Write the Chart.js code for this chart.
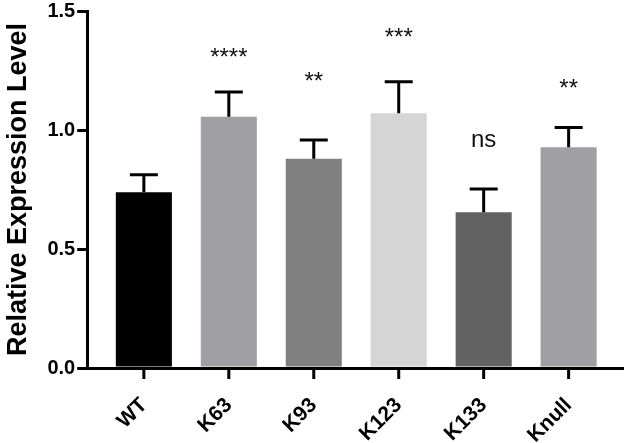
<!DOCTYPE html>
<html>
<head>
<meta charset="utf-8">
<script src="https://cdn.jsdelivr.net/npm/chart.js@4/dist/chart.umd.min.js"></script>
<style>
  html, body { margin: 0; padding: 0; background: #fff; }
  #wrap { width: 630px; height: 443px; position: relative; }
</style>
</head>
<body>
<div id="wrap"><canvas id="expr"></canvas></div>
<script>
const categories = ["WT", "K63", "K93", "K123", "K133", "Knull"];
const values = [0.738, 1.056, 0.879, 1.070, 0.654, 0.927];
const errors = [0.074, 0.104, 0.079, 0.133, 0.098, 0.084];
const sigLabels = ["", "****", "**", "***", "ns", "**"];
const sigHeights = [0, 1.30, 1.20, 1.385, 0.955, 1.17];
const yTicks = [0, 0.5, 1.0, 1.5];
const colors = ["#000000", "#a0a0a4", "#808080", "#d5d5d5", "#626262", "#a0a0a4"];

const font = "'Liberation Sans', Arial, sans-serif";

// error bars (upper only), x tick marks and significance marks
const extrasPlugin = {
    id: "extras",
    afterDraw: function (chart) {
        const ctx = chart.ctx;
        const xs = chart.scales.x;
        const ys = chart.scales.y;
        const axisY = chart.chartArea.bottom;
        ctx.save();
        ctx.strokeStyle = "#000";
        ctx.lineWidth = 3;
        values.forEach((v, i) => {
            const x = xs.getPixelForValue(i);
            const yBase = ys.getPixelForValue(v);
            const yTop = ys.getPixelForValue(v + errors[i]);
            ctx.beginPath();
            ctx.moveTo(x, yBase);
            ctx.lineTo(x, yTop);
            ctx.moveTo(x - 14, yTop);
            ctx.lineTo(x + 14, yTop);
            // tick below the x axis
            ctx.moveTo(x, axisY);
            ctx.lineTo(x, axisY + 11);
            ctx.stroke();
        });

        ctx.fillStyle = "#111";
        ctx.textAlign = "center";
        ctx.textBaseline = "middle";
        ctx.font = "24px " + font;
        sigLabels.forEach((s, i) => {
            if (!s) return;
            ctx.fillText(s, xs.getPixelForValue(i), ys.getPixelForValue(sigHeights[i]));
        });
        ctx.restore();
    }
};

new Chart(document.getElementById("expr"), {
    type: "bar",
    data: {
        datasets: [{
            data: values.map((v, i) => ({ x: i, y: v })),
            backgroundColor: colors,
            borderWidth: 0,
            barPercentage: 0.66,
            categoryPercentage: 1
        }]
    },
    options: {
        responsive: true,
        maintainAspectRatio: false,
        animation: false,
        layout: { padding: { top: 0, right: 7, bottom: 0, left: 2 } },
        plugins: {
            legend: { display: false },
            tooltip: { enabled: false }
        },
        scales: {
            x: {
                type: "linear",
                offset: false,
                min: -0.667,
                max: 5.64,
                afterBuildTicks: function (scale) {
                    scale.ticks = categories.map((c, i) => ({ value: i }));
                },
                afterFit: function (scale) {
                    scale.height = 75;
                },
                border: { color: "#000", width: 3 },
                grid: { offset: false, drawOnChartArea: false, drawTicks: false },
                ticks: {
                    color: "#000",
                    minRotation: 45,
                    maxRotation: 45,
                    autoSkip: false,
                    padding: 25,
                    font: { family: font, size: 21, weight: "bold" },
                    callback: function (v) { return categories[v]; }
                }
            },
            y: {
                min: 0,
                max: 1.5,
                afterBuildTicks: function (scale) {
                    scale.ticks = yTicks.map(t => ({ value: t }));
                },
                border: { color: "#000", width: 3 },
                grid: { drawOnChartArea: false, color: "#000", lineWidth: 3, tickLength: 10 },
                ticks: {
                    color: "#000",
                    padding: 2,
                    font: { family: font, size: 20, weight: "bold", lineHeight: 0.9 },
                    callback: function (v) { return v.toFixed(1); }
                },
                title: {
                    display: true,
                    text: "Relative Expression Level",
                    color: "#000",
                    padding: { top: 0, bottom: 11 },
                    font: { family: font, size: 27, weight: "bold" }
                }
            }
        }
    },
    plugins: [extrasPlugin]
});
</script>
</body>
</html>
